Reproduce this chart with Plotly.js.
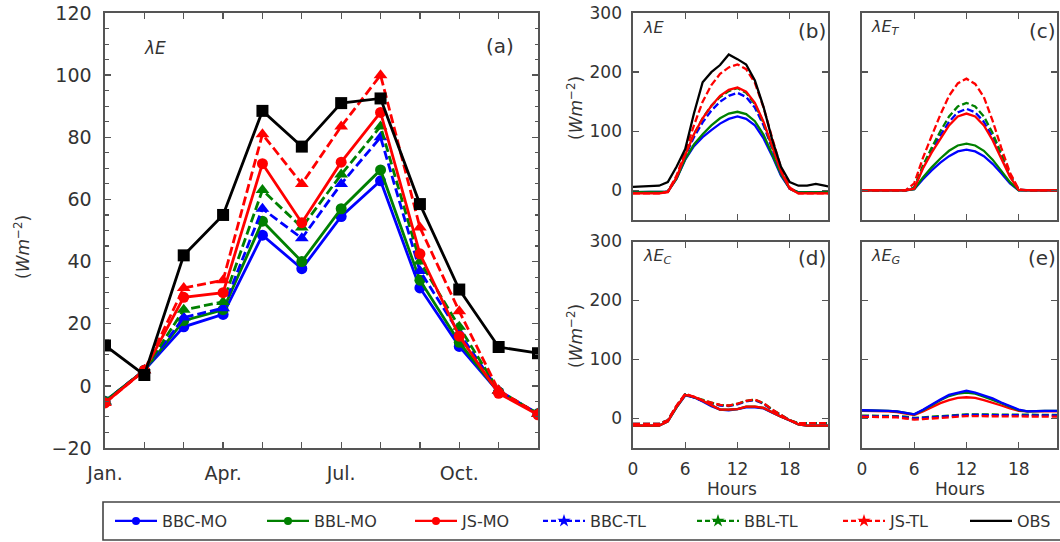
<!DOCTYPE html>
<html>
<head>
<meta charset="utf-8">
<script src="https://cdn.plot.ly/plotly-3.0.1.min.js"></script>
<style>html,body{margin:0;padding:0;background:#fff;}#chart{width:1060px;height:542px;}</style>
</head>
<body>
<div id="chart"></div>
<script>
// ---------- DATA ----------
const months = ['Jan.','Feb.','Mar.','Apr.','May','Jun.','Jul.','Aug.','Sep.','Oct.','Nov.','Dec.'];
const monthTicks = ['Jan.','Apr.','Jul.','Oct.'];
const seriesNames = ['BBC-MO','BBL-MO','JS-MO','BBC-TL','BBL-TL','JS-TL','OBS'];

// Panel (a): monthly mean latent heat (W m-2)
const aBBC_MO = [-5, 5, 19, 23, 48.5, 37.7, 54.5, 66, 31.5, 12.7, -2, -9];
const aBBL_MO = [-5, 5, 21, 24.5, 53, 40, 57, 69.5, 34, 14, -2, -9];
const aJS_MO  = [-5.5, 5, 28.5, 30, 71.5, 52.5, 72, 88, 42.5, 16, -2.4, -9.3];
const aBBC_TL = [-5, 5, 22, 25, 57, 47.5, 65, 80, 37, 17, -1.5, -9];
const aBBL_TL = [-5, 5, 24.5, 27, 63, 51, 68, 83.5, 40, 19, -1.5, -9];
const aJS_TL  = [-5.5, 5, 31.5, 34, 81, 65, 83.5, 100, 51, 24, -1.5, -9];
const aOBS    = [13, 3.5, 42, 55, 88.5, 77, 91, 92.5, 58.5, 31, 12.5, 10.5];

// Diurnal cycle (hours)
const hours = [0,1,2,3,4,5,6,7,8,9,10,11,12,13,14,15,16,17,18,19,20,21,22,23];
const hourTicks = [0, 6, 12, 18];

// Panel (b): lambda E
const bBBC_MO = [-3,-3,-3,-3,-2,20,52,75,90,102,113,121,125,121,110,88,58,25,3,-3,-3,-3,-3,-3];
const bBBL_MO = [-3,-3,-3,-3,-2,20,53,78,95,110,122,130,133,129,117,94,62,27,3,-3,-3,-3,-3,-3];
const bJS_MO  = [-5,-5,-5,-5,-3,22,60,95,122,143,160,170,174,167,148,116,74,32,3,-5,-5,-5,-5,-5];
const bBBC_TL = [-4,-4,-4,-4,-2,22,58,90,115,135,150,160,165,158,140,110,70,30,3,-4,-4,-4,-4,-4];
const bBBL_TL = [-4,-4,-4,-4,-2,22,60,95,122,143,158,168,173,165,146,114,72,31,3,-4,-4,-4,-4,-4];
const bJS_TL  = [-5,-5,-5,-5,-2,25,65,110,150,178,197,208,213,205,182,140,88,38,5,-5,-5,-5,-5,-5];
const bOBS    = [6,7,8,8,14,40,70,130,183,200,212,230,222,213,186,141,85,40,14,8,8,11,8,5];

// Panel (c): lambda E_T
const cBBC_MO = [0,0,0,0,0,0,2,19,34,47,58,66,69,66,58,45,29,12,0,0,0,0,0,0];
const cBBL_MO = [0,0,0,0,0,0,2,22,39,54,67,76,79,76,67,52,33,14,0,0,0,0,0,0];
const cJS_MO  = [0,0,0,0,0,0,3,37,64,88,110,125,130,125,110,85,55,23,1,0,0,0,0,0];
const cBBC_TL = [0,0,0,0,0,0,5,39,67,93,116,132,138,132,116,90,58,25,1,0,0,0,0,0];
const cBBL_TL = [0,0,0,0,0,0,5,42,72,100,125,142,148,142,125,97,62,27,1,0,0,0,0,0];
const cJS_TL  = [0,0,0,0,0,0,12,55,92,128,160,181,189,180,158,118,72,30,2,0,0,0,0,0];

// Panel (d): lambda E_C
const dBBC_MO = [-12,-12,-12,-12,-5,19,39,36,29,21,15,14,16,19,19,17,10,3,-3,-10,-12,-12,-12,-12];
const dBBL_MO = [-12,-12,-12,-12,-5,19,40,36,30,22,15,15,16,20,20,18,10,3,-3,-10,-12,-12,-12,-12];
const dJS_MO  = [-12,-12,-12,-12,-5,20,40,37,30,22,15,15,16,20,20,18,10,3,-3,-10,-12,-12,-12,-12];
const dBBC_TL = [-9,-9,-9,-9,-3,21,41,35,30,26,22,21,24,29,31,25,14,6,-3,-8,-8,-8,-8,-8];
const dBBL_TL = [-9,-9,-9,-9,-3,21,41,36,31,27,23,22,25,30,32,26,15,6,-3,-8,-8,-8,-8,-8];
const dJS_TL  = [-9,-9,-9,-9,-3,22,42,36,31,27,23,22,25,30,32,26,15,6,-3,-8,-8,-8,-8,-8];

// Panel (e): lambda E_G
const eBBC_MO = [14,14,14,13,12,10,7,15,24,32,40,44,47,44,39,34,27,21,15,12,13,13,13,13];
const eBBL_MO = [14,14,14,13,12,10,7,14,23,31,38,42,44,42,37,32,26,20,14,12,13,13,13,13];
const eJS_MO  = [13,13,13,12,11,9,6,12,19,26,31,35,36,35,31,27,22,17,13,12,12,12,12,12];
const eBBC_TL = [4,4,4,4,3,2,0,1,2,4,5,6,6,6,6,6,5,5,5,5,5,5,5,5];
const eBBL_TL = [5,5,5,5,4,3,1,2,3,5,6,7,7,7,7,7,6,6,6,6,6,6,6,6];
const eJS_TL  = [3,3,3,3,2,0,-2,-1,0,2,3,4,4,4,4,4,3,3,3,3,3,3,3,3];

// ---------- STYLE ----------
const W = 1060, H = 542;
const FONT = 'DejaVu Sans';
const BLUE = '#0000ff', GREEN = '#008000', RED = '#ff0000', BLACK = '#000000';
const AXC = '#555555', TXT = '#333333';
const px = v => v / W;
const py = v => 1 - v / H;

const styles = {
  'BBC-MO': {color: BLUE, dash: 'solid', sym: 'circle', legSym: 'circle'},
  'BBL-MO': {color: GREEN, dash: 'solid', sym: 'circle', legSym: 'circle'},
  'JS-MO':  {color: RED, dash: 'solid', sym: 'circle', legSym: 'circle'},
  'BBC-TL': {color: BLUE, dash: '9px,4px', sym: 'triangle-up', legSym: 'star'},
  'BBL-TL': {color: GREEN, dash: '9px,4px', sym: 'triangle-up', legSym: 'star'},
  'JS-TL':  {color: RED, dash: '9px,4px', sym: 'triangle-up', legSym: 'star'},
  'OBS':    {color: BLACK, dash: 'solid', sym: 'square', legSym: null}
};

const traces = [];
function addMonthly(name, y) {
  const s = styles[name];
  traces.push({
    x: months, y: y, xaxis: 'x', yaxis: 'y', type: 'scatter', mode: 'lines+markers',
    name: name, showlegend: false,
    line: {color: s.color, width: 2.8, dash: s.dash},
    marker: {symbol: s.sym, color: s.color, size: s.sym === 'circle' ? 11 : 12}
  });
}
function addHourly(name, y, ax) {
  const s = styles[name];
  traces.push({
    x: hours, y: y, xaxis: 'x' + ax, yaxis: 'y' + ax, type: 'scatter', mode: 'lines',
    name: name, showlegend: false,
    line: {color: s.color, width: 2.3, dash: s.dash === 'solid' ? 'solid' : '7px,3px'}
  });
}

addMonthly('BBC-MO', aBBC_MO);
addMonthly('BBL-MO', aBBL_MO);
addMonthly('BBC-TL', aBBC_TL);
addMonthly('BBL-TL', aBBL_TL);
addMonthly('JS-MO', aJS_MO);
addMonthly('JS-TL', aJS_TL);
addMonthly('OBS', aOBS);

const hourly = [
  [2, {'BBC-MO': bBBC_MO, 'BBL-MO': bBBL_MO, 'BBC-TL': bBBC_TL, 'BBL-TL': bBBL_TL, 'JS-MO': bJS_MO, 'JS-TL': bJS_TL, 'OBS': bOBS}],
  [3, {'BBC-MO': cBBC_MO, 'BBL-MO': cBBL_MO, 'BBC-TL': cBBC_TL, 'BBL-TL': cBBL_TL, 'JS-MO': cJS_MO, 'JS-TL': cJS_TL}],
  [4, {'BBC-MO': dBBC_MO, 'BBL-MO': dBBL_MO, 'BBC-TL': dBBC_TL, 'BBL-TL': dBBL_TL, 'JS-MO': dJS_MO, 'JS-TL': dJS_TL}],
  [5, {'BBL-TL': eBBL_TL, 'BBC-TL': eBBC_TL, 'JS-TL': eJS_TL, 'JS-MO': eJS_MO, 'BBL-MO': eBBL_MO, 'BBC-MO': eBBC_MO}]
];
hourly.forEach(([ax, set]) => { Object.keys(set).forEach(n => addHourly(n, set[n], ax)); });

// legend-only entries, one legend each so that positions match the figure
const legendStarts = [115, 267, 415, 543, 697, 843, 970];
const legends = {};
seriesNames.forEach((n, i) => {
  const s = styles[n];
  const key = i === 0 ? 'legend' : 'legend' + (i + 1);
  traces.push({
    x: [null], y: [null], xaxis: 'x', yaxis: 'y', type: 'scatter', name: n,
    mode: s.legSym ? 'lines+markers' : 'lines', showlegend: true, legend: key,
    line: {color: s.color, width: 2.3, dash: s.dash === 'solid' ? 'solid' : '5px,3px'},
    marker: {symbol: s.legSym || 'circle', color: s.color, size: s.legSym === 'star' ? 10 : 8}
  });
  legends[key] = {
    x: px(legendStarts[i] - 5), y: py(521), xanchor: 'left', yanchor: 'middle',
    orientation: 'h', bgcolor: 'rgba(0,0,0,0)', borderwidth: 0,
    font: {family: FONT, size: 16, color: TXT}, itemwidth: 42, itemclick: false, itemdoubleclick: false
  };
});

function baseAxis(extra) {
  return Object.assign({
    showline: true, linecolor: AXC, linewidth: 1.6, mirror: 'allticks',
    ticks: 'inside', ticklen: 6, tickwidth: 1.3, tickcolor: AXC,
    showgrid: false, zeroline: false, fixedrange: true,
    tickfont: {family: FONT, size: 17, color: TXT}
  }, extra);
}

const aX = [105, 538], rightX = [[633, 828], [862, 1057]];
const topY = [13, 220], botY = [241.5, 448];

const layout = {
  width: W, height: H, margin: {l: 0, r: 0, t: 0, b: 0},
  paper_bgcolor: '#ffffff', plot_bgcolor: '#ffffff',
  font: {family: FONT, color: TXT},
  xaxis: baseAxis({domain: [px(aX[0]), px(aX[1])], anchor: 'y', type: 'category',
    categoryorder: 'array', categoryarray: months, range: [0, 11],
    tickvals: monthTicks, ticktext: monthTicks, ticklabelstandoff: 8,
    minor: {tickvals: months, ticks: 'inside', ticklen: 6, tickcolor: AXC, tickwidth: 1.3},
    tickfont: {family: FONT, size: 19, color: TXT}}),
  yaxis: baseAxis({domain: [py(botY[1]), py(topY[0])], anchor: 'x',
    range: [-20, 120], tickvals: [-20, 0, 20, 40, 60, 80, 100, 120], ticklabelstandoff: 8,
    minor: {dtick: 5, ticks: 'inside', ticklen: 3.5, tickcolor: AXC, tickwidth: 1.1},
    tickfont: {family: FONT, size: 19, color: TXT}}),
  shapes: [{type: 'rect', xref: 'paper', yref: 'paper', x0: px(103), x1: px(1063), y0: py(540), y1: py(502),
    line: {color: '#444', width: 1.6}, fillcolor: 'rgba(0,0,0,0)'}],
  annotations: []
};
Object.assign(layout, legends);

const panels = [
  {n: 2, xr: rightX[0], yr: topY, xl: false, yl: true},
  {n: 3, xr: rightX[1], yr: topY, xl: false, yl: false},
  {n: 4, xr: rightX[0], yr: botY, xl: true, yl: true},
  {n: 5, xr: rightX[1], yr: botY, xl: true, yl: false}
];
panels.forEach(p => {
  layout['xaxis' + p.n] = baseAxis({domain: [px(p.xr[0]), px(p.xr[1])], anchor: 'y' + p.n,
    range: [0, 22.4], tickvals: hourTicks, showticklabels: p.xl, ticklabelstandoff: 5});
  layout['yaxis' + p.n] = baseAxis({domain: [py(p.yr[1]), py(p.yr[0])], anchor: 'x' + p.n,
    range: [-50, 300], tickvals: [0, 100, 200, 300], showticklabels: p.yl, ticklabelstandoff: 6});
});

function ann(text, x, y, size, xanchor, extra) {
  layout.annotations.push(Object.assign({text: text, xref: 'paper', yref: 'paper', x: px(x), y: py(y),
    xanchor: xanchor || 'center', yanchor: 'middle', showarrow: false,
    font: {family: FONT, size: size, color: TXT}}, extra || {}));
}
ann('<i>λE</i>', 142, 48, 17, 'left');
ann('(a)', 516, 46, 20, 'right');
ann('<i>λE</i>', 641, 28, 16, 'left');
ann('(b)', 828, 31, 20, 'right');
ann('<i>λE<sub>T</sub></i>', 869, 28, 16, 'left');
ann('(c)', 1058, 31, 20, 'right');
ann('<i>λE<sub>C</sub></i>', 641, 256, 16, 'left');
ann('(d)', 828, 258, 20, 'right');
ann('<i>λE<sub>G</sub></i>', 869, 256, 16, 'left');
ann('(e)', 1058, 258, 20, 'right');
const ylab = '(<i>Wm</i><sup>−2</sup>)';
ann(ylab, 22, 247, 17, 'center', {textangle: -90});
ann(ylab, 575, 108, 17, 'center', {textangle: -90});
ann(ylab, 575, 336, 17, 'center', {textangle: -90});
ann('Hours', 732, 489, 17);
ann('Hours', 960, 489, 17);

Plotly.newPlot('chart', traces, layout, {displayModeBar: false, staticPlot: true});
</script>
</body>
</html>
